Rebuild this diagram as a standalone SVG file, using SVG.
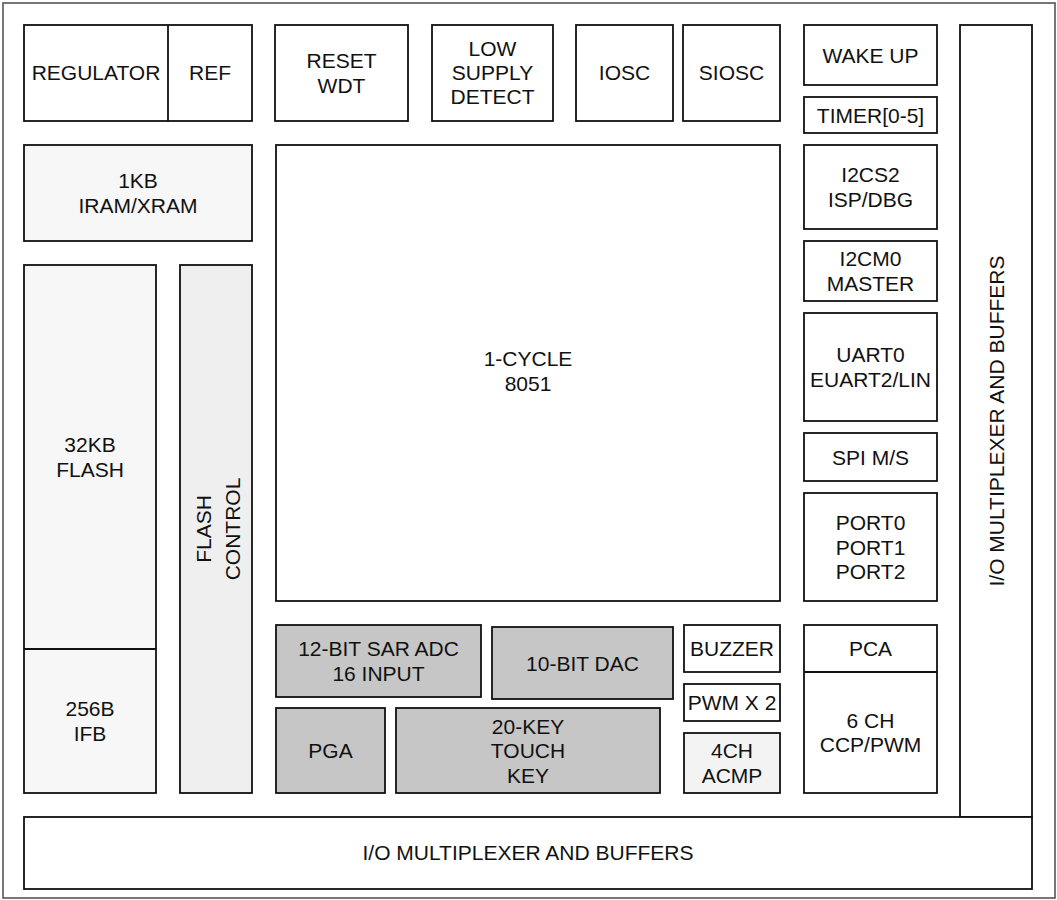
<svg xmlns="http://www.w3.org/2000/svg" width="1057" height="900" viewBox="0 0 1057 900">
<style>
rect{stroke:#111;stroke-width:1.8;fill:#fff}
line{stroke:#111;stroke-width:1.8}
.outer{stroke:#555;stroke-width:1.6;fill:#fff}
.mem{fill:#f7f7f7}
.fc{fill:#efefef}
.ana{fill:#c6c6c6}
.lt{fill:#f3f3f3}
text{font-family:"Liberation Sans",Arial,sans-serif;font-size:21px;fill:#111;text-anchor:middle}
</style>
<rect class="outer" x="3" y="3" width="1052" height="895"/>
<g id="regulator"><rect x="24" y="25" width="228" height="96"/><line x1="168" y1="25" x2="168" y2="121"/><text x="96" y="80">REGULATOR</text><text x="210" y="80">REF</text></g>
<g id="reset"><rect x="275" y="25" width="133" height="96"/><text x="341.5" y="68">RESET</text><text x="341.5" y="92.5">WDT</text></g>
<g id="lvd"><rect x="432" y="25" width="121" height="96"/><text x="492.5" y="56">LOW</text><text x="492.5" y="80">SUPPLY</text><text x="492.5" y="104">DETECT</text></g>
<g id="iosc"><rect x="576" y="25" width="97" height="96"/><text x="624.5" y="80">IOSC</text></g>
<g id="siosc"><rect x="683" y="25" width="97" height="96"/><text x="731.5" y="80">SIOSC</text></g>
<g id="wakeup"><rect x="804" y="25" width="133" height="60"/><text x="870.5" y="62.5">WAKE UP</text></g>
<g id="timer"><rect x="804" y="97" width="133" height="36"/><text x="870.5" y="122.5">TIMER[0-5]</text></g>
<g id="i2cs2"><rect x="804" y="145" width="133" height="84"/><text x="870.5" y="182">I2CS2</text><text x="870.5" y="206.5">ISP/DBG</text></g>
<g id="i2cm0"><rect x="804" y="241" width="133" height="60"/><text x="870.5" y="266">I2CM0</text><text x="870.5" y="290.5">MASTER</text></g>
<g id="uart"><rect x="804" y="313" width="133" height="108"/><text x="870.5" y="362">UART0</text><text x="870.5" y="386.5">EUART2/LIN</text></g>
<g id="spi"><rect x="804" y="433" width="133" height="48"/><text x="870.5" y="464.5">SPI M/S</text></g>
<g id="ports"><rect x="804" y="493" width="133" height="108"/><text x="870.5" y="530">PORT0</text><text x="870.5" y="554.5">PORT1</text><text x="870.5" y="579">PORT2</text></g>
<g id="pca"><rect x="804" y="625" width="133" height="168"/><line x1="804" y1="672" x2="937" y2="672"/><text x="870.5" y="656">PCA</text><text x="870.5" y="727.5">6 CH</text><text x="870.5" y="752">CCP/PWM</text></g>
<g id="iomux-right"><rect x="960" y="25" width="72" height="792"/><text transform="translate(1003.5,421) rotate(-90)">I/O MULTIPLEXER AND BUFFERS</text></g>
<g id="iram"><rect class="mem" x="24" y="145" width="228" height="96"/><text x="138" y="188">1KB</text><text x="138" y="212.5">IRAM/XRAM</text></g>
<g id="flash"><rect class="mem" x="24" y="265" width="132" height="528"/><line x1="24" y1="649" x2="156" y2="649"/><text x="90" y="452">32KB</text><text x="90" y="476.5">FLASH</text><text x="90" y="716">256B</text><text x="90" y="740.5">IFB</text></g>
<g id="flashctrl"><rect class="fc" x="180" y="265" width="72" height="528"/><text transform="translate(210.5,529) rotate(-90)">FLASH</text><text transform="translate(239.5,529) rotate(-90)">CONTROL</text></g>
<g id="cpu"><rect x="276" y="145" width="504" height="456"/><text x="528" y="366">1-CYCLE</text><text x="528" y="390.5">8051</text></g>
<g id="adc"><rect class="ana" x="276" y="625" width="205" height="72"/><text x="378.5" y="656">12-BIT SAR ADC</text><text x="378.5" y="680.5">16 INPUT</text></g>
<g id="dac"><rect class="ana" x="492" y="627" width="181" height="72"/><text x="582.5" y="670.5">10-BIT DAC</text></g>
<g id="pga"><rect class="ana" x="276" y="708" width="109" height="85"/><text x="330.5" y="758">PGA</text></g>
<g id="touch"><rect class="ana" x="396" y="708" width="264" height="85"/><text x="528" y="733.5">20-KEY</text><text x="528" y="758">TOUCH</text><text x="528" y="782.5">KEY</text></g>
<g id="buzzer"><rect x="684" y="625" width="96" height="47"/><text x="732" y="656">BUZZER</text></g>
<g id="pwm"><rect x="684" y="684" width="96" height="37"/><text x="732" y="710">PWM X 2</text></g>
<g id="acmp"><rect class="lt" x="684" y="733" width="96" height="60"/><text x="732" y="758">4CH</text><text x="732" y="782.5">ACMP</text></g>
<g id="iomux-bottom"><rect x="24" y="817" width="1008" height="72"/><text x="528" y="860">I/O MULTIPLEXER AND BUFFERS</text></g>
<g id="connectors"></g>
</svg>
